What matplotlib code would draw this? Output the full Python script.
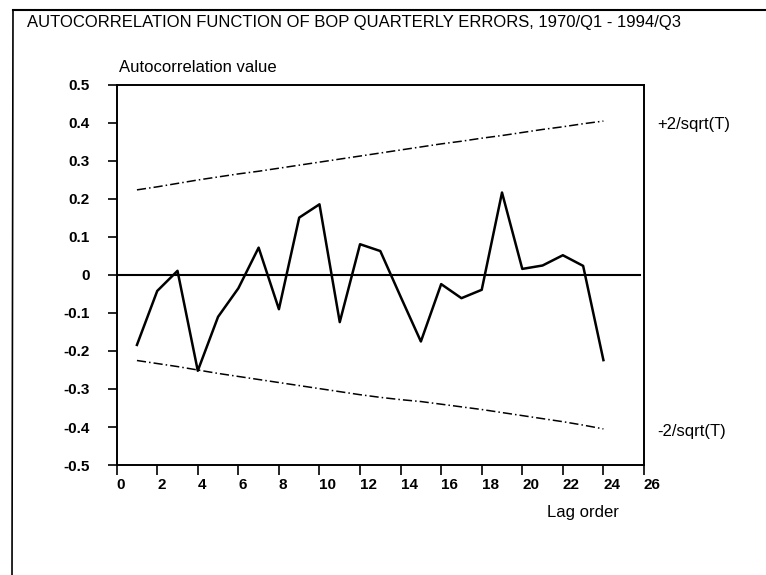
import matplotlib
matplotlib.use("Agg")
import matplotlib.pyplot as plt
from matplotlib.lines import Line2D

plt.rcParams['font.family'] = ['Liberation Sans', 'DejaVu Sans']

# dados
lags = list(range(1, 25))
acf = [-0.184, -0.042, 0.011, -0.252, -0.110, -0.035, 0.072, -0.090,
       0.151, 0.186, -0.124, 0.081, 0.063, -0.057, -0.175, -0.024,
       -0.061, -0.039, 0.217, 0.016, 0.025, 0.052, 0.024, -0.224]
banda_sup = [0.224, 0.232, 0.241, 0.250, 0.258, 0.266, 0.273, 0.281,
             0.289, 0.297, 0.305, 0.313, 0.321, 0.329, 0.337, 0.345,
             0.352, 0.360, 0.367, 0.375, 0.383, 0.390, 0.398, 0.405]
banda_inf = [-0.225, -0.233, -0.241, -0.250, -0.259, -0.267, -0.275, -0.283,
             -0.291, -0.299, -0.307, -0.315, -0.322, -0.328, -0.333, -0.340,
             -0.347, -0.354, -0.362, -0.370, -0.378, -0.386, -0.395, -0.405]
xticks = list(range(0, 27, 2))
yticks = [-0.5, -0.4, -0.3, -0.2, -0.1, 0, 0.1, 0.2, 0.3, 0.4, 0.5]
ytick_labels = ['-0.5', '-0.4', '-0.3', '-0.2', '-0.1', '0',
                '0.1', '0.2', '0.3', '0.4', '0.5']

fig = plt.figure(figsize=(7.66, 5.75), dpi=100)
ax = fig.add_axes([0.1523, 0.1913, 0.6884, 0.6609])

ax.plot(lags, acf, color='black', lw=1.8)
ax.plot(lags, banda_sup, color='black', lw=1.1, ls=(0, (6, 2, 1, 2)))
ax.plot(lags, banda_inf, color='black', lw=1.1, ls=(0, (6, 2, 1, 2)))
ax.plot([0, 25.8], [0, 0], color='black', lw=1.5)

ax.set_xlim(0, 26)
ax.set_ylim(-0.5, 0.5)
ax.set_xticks(xticks)
ax.set_yticks(yticks)
ax.set_yticklabels(ytick_labels)
ax.tick_params(axis='x', direction='out', length=7, width=1.2, pad=2,
               labelsize=11, colors='black')
ax.tick_params(axis='y', direction='out', length=6.5, width=1.2, pad=13,
               labelsize=11, colors='black')
for lbl in ax.get_xticklabels():
    lbl.set_ha('left')
    lbl.set_fontweight('bold')
for lbl in ax.get_yticklabels():
    lbl.set_fontweight('bold')
for s in ax.spines.values():
    s.set_linewidth(1.4)

ax.text(0.005, 1.035, 'Autocorrelation value', transform=ax.transAxes, fontsize=12)
ax.text(0.953, -0.126, 'Lag order', transform=ax.transAxes, fontsize=12,
        ha='right', va='center')
ax.text(1.025, 0.395, '+2/sqrt(T)', transform=ax.get_yaxis_transform(),
        fontsize=12, va='center')
ax.text(1.025, -0.413, '-2/sqrt(T)', transform=ax.get_yaxis_transform(),
        fontsize=12, va='center')

fig.text(27 / 766, 1 - 22 / 575,
         'AUTOCORRELATION FUNCTION OF BOP QUARTERLY ERRORS, 1970/Q1 - 1994/Q3',
         fontsize=12, va='center')

# moldura externa
fig.add_artist(Line2D([13 / 766, 1], [1 - 10 / 575, 1 - 10 / 575], color='black', lw=1.5))
fig.add_artist(Line2D([13 / 766, 12 / 766], [1 - 10 / 575, 0], color='black', lw=1.2))

fig.savefig('out.png', dpi=100)
